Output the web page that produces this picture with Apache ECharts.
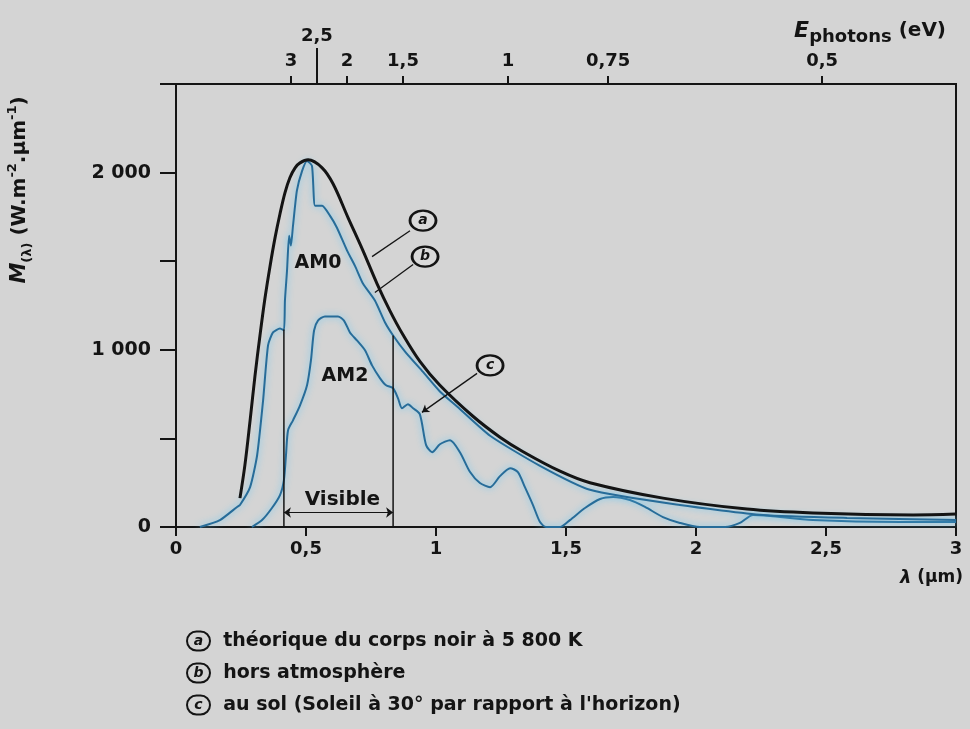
<!DOCTYPE html>
<html><head><meta charset="utf-8">
<script src="https://cdn.jsdelivr.net/npm/echarts@6/dist/echarts.min.js"></script>
<style>html,body{margin:0;padding:0;background:#d4d4d4}#c{width:970px;height:729px}</style>
</head><body><div id="c"></div>
<script>
// ---- data ----
const wavelengthTicks = [0, 0.5, 1, 1.5, 2, 2.5, 3];           // µm
const irradianceLabels = { 0: '0', 1000: '1 000', 2000: '2 000' };
const energyLabels = ['3', '2,5', '2', '1,5', '1', '0,75', '0,5']; // eV
const energyPositions = [0.442, 0.542, 0.658, 0.873, 1.277, 1.662, 2.485]; // µm where each eV tick sits

// (a) black body 5800 K
const curveA = [[0.246,163],[0.265,349],[0.285,602],[0.304,856],[0.323,1081],[0.342,1289],[0.362,1475],[0.381,1633],[0.40,1768],[0.419,1886],[0.438,1971],[0.458,2027],[0.477,2055],[0.508,2072],[0.562,2027],[0.604,1937],[0.662,1745],[0.719,1560],[0.773,1374],[0.823,1220],[0.873,1085],[0.938,935],[1.015,800],[1.142,625],[1.246,507],[1.335,425],[1.477,315],[1.592,250],[1.873,163],[2.196,101],[2.45,79],[2.835,68],[3.0,73]];
// (b) AM0, outside atmosphere
const curveB = [[0.092,0],[0.169,39],[0.235,113],[0.246,124],[0.285,225],[0.312,405],[0.335,715],[0.354,1025],[0.373,1098],[0.40,1120],[0.415,1110],[0.419,1278],[0.427,1447],[0.435,1644],[0.442,1588],[0.45,1700],[0.465,1898],[0.485,2010],[0.504,2066],[0.523,2038],[0.535,1813],[0.562,1813],[0.592,1757],[0.619,1689],[0.658,1560],[0.688,1475],[0.719,1374],[0.765,1278],[0.804,1154],[0.835,1081],[0.881,990],[0.95,875],[1.015,765],[1.081,680],[1.208,515],[1.4,345],[1.592,210],[1.938,124],[2.258,68],[2.581,51],[3.0,39]];
// (c) AM2, at ground level
const curveC = [[0.292,0],[0.331,39],[0.369,107],[0.40,180],[0.415,265],[0.423,405],[0.431,546],[0.45,602],[0.477,687],[0.504,800],[0.519,940],[0.531,1109],[0.546,1165],[0.573,1188],[0.623,1188],[0.646,1165],[0.669,1098],[0.696,1053],[0.727,997],[0.754,912],[0.785,839],[0.808,800],[0.835,783],[0.854,726],[0.869,670],[0.892,693],[0.912,670],[0.938,636],[0.962,462],[0.985,422],[1.015,467],[1.054,490],[1.092,422],[1.131,310],[1.169,248],[1.208,225],[1.246,287],[1.285,332],[1.315,310],[1.342,225],[1.373,124],[1.4,28],[1.423,0],[1.477,0],[1.515,39],[1.573,107],[1.631,158],[1.681,169],[1.746,152],[1.804,113],[1.873,56],[1.938,23],[2.015,0],[2.112,0],[2.169,23],[2.219,68],[2.285,62],[2.45,39],[2.785,28],[3.0,28]];

const visibleBounds = [0.415, 0.835];   // µm
const visibleTops = [1115, 1080];        // W.m-2.µm-1
const legendItems = [
  ['a', 'théorique du corps noir à 5 800 K'],
  ['b', 'hors atmosphère'],
  ['c', "au sol (Soleil à 30° par rapport à l'horizon)"]
];

// ---- chart ----
const F = "'DejaVu Sans', sans-serif";
const INK = '#141414';
const BLUE = '#276c99';
const chart = echarts.init(document.getElementById('c'), null, { renderer: 'canvas' });

const mainTop = energyPositions.filter((p, i) => energyLabels[i] !== '2,5');
const highTop = energyPositions.filter((p, i) => energyLabels[i] === '2,5');
const energyFmt = v => {
  const i = energyPositions.findIndex(p => Math.abs(p - v) < 1e-6);
  return i >= 0 ? energyLabels[i] : '';
};
const boldLabel = { color: INK, fontWeight: 'bold', fontSize: 18, fontFamily: F };

const visibleLine = [];
visibleBounds.forEach((b, i) => {
  if (i > 0) visibleLine.push(['-', '-']);
  visibleLine.push([b, 0], [b, visibleTops[i]]);
});

const blueStyle = { color: BLUE, width: 2, shadowColor: 'rgba(100,200,245,1)', shadowBlur: 7 };

chart.setOption({
  backgroundColor: '#d4d4d4',
  animation: false,
  grid: { left: 176, right: 14, top: 84, bottom: 202, show: true, borderColor: INK, borderWidth: 2, backgroundColor: 'transparent' },
  xAxis: [
    { type: 'value', min: 0, max: 3, interval: 0.5, position: 'bottom',
      axisLine: { onZero: false, lineStyle: { color: INK, width: 2 } },
      axisTick: { length: 9, lineStyle: { color: INK, width: 2 } },
      axisLabel: Object.assign({ margin: 13, formatter: v => String(v).replace('.', ',') }, boldLabel),
      splitLine: { show: false } },
    { type: 'value', min: 0, max: 3, position: 'top',
      axisLine: { show: true, onZero: false, lineStyle: { color: INK, width: 2 } },
      axisTick: { show: true, customValues: mainTop, length: 8, lineStyle: { color: INK, width: 2 } },
      axisLabel: Object.assign({ customValues: mainTop, margin: 14, formatter: energyFmt }, boldLabel),
      splitLine: { show: false } },
    { type: 'value', min: 0, max: 3, position: 'top',
      axisLine: { show: false, onZero: false },
      axisTick: { show: true, customValues: highTop, length: 36, lineStyle: { color: INK, width: 2 } },
      axisLabel: Object.assign({ customValues: highTop, margin: 39, formatter: energyFmt }, boldLabel),
      splitLine: { show: false } }
  ],
  yAxis: {
    type: 'value', min: 0, max: 2500, interval: 500,
    axisLine: { show: true, onZero: false, lineStyle: { color: INK, width: 2 } },
    axisTick: { show: true, length: 16, lineStyle: { color: INK, width: 2 } },
    axisLabel: Object.assign({ margin: 25, formatter: v => irradianceLabels[v] || '' }, boldLabel, { fontSize: 19 }),
    splitLine: { show: false }
  },
  series: [
    { name: 'c', type: 'line', data: curveC, showSymbol: false, smooth: 0.25, lineStyle: blueStyle, z: 3 },
    { name: 'b', type: 'line', data: curveB, showSymbol: false, smooth: 0.2, lineStyle: blueStyle, z: 4 },
    { name: 'a', type: 'line', data: curveA, showSymbol: false, smooth: 0.35, lineStyle: { color: INK, width: 3 }, z: 5 },
    { name: 'visible', type: 'line', data: visibleLine, connectNulls: false, showSymbol: false,
      lineStyle: { color: INK, width: 1.5 }, z: 6,
      markLine: {
        silent: true, symbol: ['arrow', 'arrow'], symbolSize: [8, 7],
        lineStyle: { color: INK, width: 1.2, type: 'solid' }, label: { show: false },
        data: [[{ coord: [visibleBounds[0], 82] }, { coord: [visibleBounds[1], 82] }]]
      } },
    { name: 'leaders', type: 'line', data: [], z: 6,
      markLine: {
        silent: true, symbol: 'none', lineStyle: { color: INK, width: 1.3, type: 'solid' }, label: { show: false },
        data: [
          [{ coord: [0.9, 1672] }, { coord: [0.754, 1526] }],
          [{ coord: [0.912, 1481] }, { coord: [0.765, 1323] }],
          [{ coord: [1.158, 867], symbol: 'none' }, { coord: [0.946, 647], symbol: 'arrow', symbolSize: 7 }]
        ]
      } },
    { name: 'circles', type: 'scatter', z: 7, symbol: 'circle', symbolSize: [26, 20],
      itemStyle: { color: '#dadada', borderColor: INK, borderWidth: 2.5, opacity: 1 },
      label: { show: true, position: 'inside', formatter: p => p.data[2], color: INK, fontStyle: 'italic', fontWeight: 'bold', fontSize: 14, fontFamily: F },
      data: [[0.95, 1729, 'a'], [0.958, 1526, 'b'], [1.208, 912, 'c']] },
    { name: 'texts', type: 'scatter', z: 7, symbolSize: 0, itemStyle: { opacity: 1 },
      label: { show: true, position: 'inside', formatter: p => p.data[2], color: INK, fontWeight: 'bold', fontSize: 19, fontFamily: F },
      data: [[0.546, 1492, 'AM0'], [0.65, 850, 'AM2']] },
    { name: 'visibleText', type: 'scatter', z: 7, symbolSize: 0, itemStyle: { opacity: 1 },
      label: { show: true, position: 'inside', formatter: p => p.data[2], color: INK, fontWeight: 'bold', fontSize: 20, fontFamily: F },
      data: [[0.64, 155, 'Visible']] }
  ],
  graphic: [
    { type: 'text', x: 20, y: 190, rotation: Math.PI / 2,
      style: { text: '{i|M}{s|(λ)} (W.m{p|-2}.µm{p|-1})', align: 'center', verticalAlign: 'middle', fill: INK, font: 'bold 20px ' + F,
        rich: { i: { fontStyle: 'italic', fontWeight: 'bold', fontSize: 21, fontFamily: F, fill: INK, lineHeight: 28 },
                s: { fontSize: 13, fontWeight: 'bold', fontFamily: F, verticalAlign: 'bottom', fill: INK, lineHeight: 28 },
                p: { fontSize: 13, fontWeight: 'bold', fontFamily: F, verticalAlign: 'top', fill: INK, lineHeight: 28 } } } },
    { type: 'text', x: 946, y: 31,
      style: { text: '{i|E}{s|photons} (eV)', align: 'right', verticalAlign: 'middle', fill: INK, font: 'bold 20px ' + F,
        rich: { i: { fontStyle: 'italic', fontWeight: 'bold', fontSize: 22, fontFamily: F, fill: INK, lineHeight: 30 },
                s: { fontSize: 18, fontWeight: 'bold', fontFamily: F, verticalAlign: 'bottom', fill: INK, lineHeight: 30 } } } },
    { type: 'text', x: 963, y: 578,
      style: { text: '{i|λ} (µm)', align: 'right', verticalAlign: 'middle', fill: INK, font: 'bold 17px ' + F,
        rich: { i: { fontStyle: 'italic', fontWeight: 'bold', fontSize: 18, fontFamily: F, fill: INK } } } }
  ].concat(legendItems.map((it, k) => ({
    type: 'text', x: 187, y: 641 + 32 * k,
    style: { text: '{c|' + it[0] + '}  ' + it[1], verticalAlign: 'middle', fill: INK, font: 'bold 19px ' + F,
      rich: { c: { fontStyle: 'italic', fontWeight: 'bold', fontSize: 14, fontFamily: F, fill: INK, borderColor: INK, borderWidth: 2,
                   borderRadius: 11, width: 19, height: 17, align: 'center', padding: [1, 2] } } }
  })))
});
</script></body></html>
